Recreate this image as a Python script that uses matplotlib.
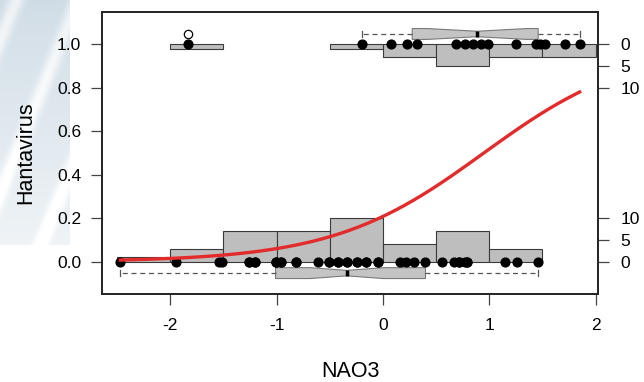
import matplotlib
matplotlib.use("Agg")
import matplotlib.pyplot as plt
import numpy as np
from matplotlib.colors import LinearSegmentedColormap

plt.rcParams['font.family'] = ['Liberation Sans', 'DejaVu Sans']
plt.rcParams['axes.unicode_minus'] = False

# NAO3 values for sites without hantavirus (0) and with hantavirus (1)
nao_neg = [-2.47, -1.95, -1.54, -1.51,
           -1.26, -1.26, -1.20, -1.20, -1.01, -1.01, -1.01,
           -0.96, -0.96, -0.82, -0.82, -0.61, -0.51, -0.51,
           -0.42, -0.42, -0.34, -0.34, -0.24, -0.24, -0.16, -0.16, -0.05, -0.05,
           0.16, 0.22, 0.29, 0.40,
           0.56, 0.67, 0.72, 0.72, 0.77, 0.79, 0.79,
           1.15, 1.26, 1.46]
nao_pos = [-1.83, -0.20, 0.08, 0.23, 0.32, 0.69, 0.77, 0.85, 0.92, 0.99,
           1.25, 1.44, 1.48, 1.52, 1.71, 1.85]
bin_edges = [-2.5, -2.0, -1.5, -1.0, -0.5, 0.0, 0.5, 1.0, 1.5, 2.0]
count_ticks = [0, 5, 10]


def fivenum_stats(v):
    # R style boxplot stats (Tukey hinges, 1.5 IQR whiskers, notch)
    v = np.sort(np.asarray(v, dtype=float))
    n = len(v)
    n4 = np.floor((n + 3) / 2) / 2
    d = np.array([1, n4, (n + 1) / 2, n + 1 - n4, n]) - 1
    fv = 0.5 * (v[np.floor(d).astype(int)] + v[np.ceil(d).astype(int)])
    iqr = fv[3] - fv[1]
    inside = v[(v >= fv[1] - 1.5 * iqr) & (v <= fv[3] + 1.5 * iqr)]
    fl = v[(v < fv[1] - 1.5 * iqr) | (v > fv[3] + 1.5 * iqr)]
    half = 1.58 * iqr / np.sqrt(n)
    return dict(med=fv[2], q1=fv[1], q3=fv[3], whislo=inside.min(),
                whishi=inside.max(), fliers=fl, cilo=fv[2] - half, cihi=fv[2] + half)


x = np.array(nao_neg + nao_pos)
y = np.array([0] * len(nao_neg) + [1] * len(nao_pos))

# logistic regression (IRLS)
X = np.column_stack([np.ones_like(x), x])
beta = np.zeros(2)
for _ in range(30):
    eta = X @ beta
    p = 1 / (1 + np.exp(-eta))
    w = p * (1 - p)
    z = eta + (y - p) / w
    beta = np.linalg.solve(X.T @ (X * w[:, None]), X.T @ (w * z))

cnt0, _ = np.histogram(nao_neg, bins=bin_edges)
cnt1, _ = np.histogram(nao_pos, bins=bin_edges)
scale = 0.2 / max(cnt0.max(), cnt1.max())
lefts = np.array(bin_edges[:-1])
widths = np.diff(bin_edges)

fig = plt.figure(figsize=(6.44, 3.82), dpi=100)

# light bluish decoration at the left edge
deco = fig.add_axes([0, 1 - 245 / 382, 70 / 644, 245 / 382])
gy, gx = np.mgrid[0:1:120j, 0:1:40j]
shade = 0.45 + 0.35 * gy + 0.35 * np.clip(np.sin(7 * gx + 10 * gy), 0, 1) ** 3
cmap = LinearSegmentedColormap.from_list('deco', ['#9fb4c4', '#d6e1e9', '#ffffff'])
deco.imshow(np.clip(shade, 0, 1), cmap=cmap, vmin=0, vmax=1, aspect='auto')
deco.axis('off')

ax = fig.add_axes([102 / 644, 1 - 294 / 382, 496 / 644, 282 / 382])

m0 = cnt0 > 0
m1 = cnt1 > 0
ax.bar(lefts[m0], cnt0[m0] * scale, width=widths[m0], bottom=0, align='edge',
       color='#bebebe', edgecolor='#3a3a3a', linewidth=0.8, zorder=1)
ax.bar(lefts[m1], -cnt1[m1] * scale, width=widths[m1], bottom=1, align='edge',
       color='#bebebe', edgecolor='#3a3a3a', linewidth=0.8, zorder=1)

bstats = [fivenum_stats(nao_neg), fivenum_stats(nao_pos)]
ax.bxp(bstats, positions=[-0.052, 1.047], widths=0.05, vert=False, shownotches=True,
       patch_artist=True, manage_ticks=False,
       boxprops=dict(facecolor='#c4c4c4', edgecolor='#7a7a7a', linewidth=0.8),
       medianprops=dict(color='black', linewidth=2.5),
       whiskerprops=dict(color='#555555', linestyle=(0, (4, 3)), linewidth=0.9),
       capprops=dict(color='#555555', linewidth=0.9),
       flierprops=dict(marker='o', markerfacecolor='white', markeredgecolor='black',
                       markersize=6, markeredgewidth=0.9), zorder=2)

ax.plot(nao_neg, np.zeros(len(nao_neg)), 'o', color='black', markersize=6.3, zorder=3)
ax.plot(nao_pos, np.ones(len(nao_pos)), 'o', color='black', markersize=6.3, zorder=3)

xs = np.linspace(x.min(), x.max(), 200)
ax.plot(xs, 1 / (1 + np.exp(-(beta[0] + beta[1] * xs))), color='#e32b2b',
        linewidth=2.4, zorder=4)

span = x.max() - x.min()
ax.set_xlim(x.min() - 0.04 * span, x.max() + 0.04 * span)
ax.set_ylim(-0.148, 1.148)
ax.set_xticks([-2, -1, 0, 1, 2])
ax.set_yticks([0, 0.2, 0.4, 0.6, 0.8, 1.0])
ax.set_yticklabels(['0.0', '0.2', '0.4', '0.6', '0.8', '1.0'])
ax.tick_params(axis='x', length=8, width=0.9, pad=9.5, labelsize=12.5, color='#444444')
ax.tick_params(axis='y', length=8, width=0.9, pad=7, labelsize=12.5, color='#444444')

ax2 = ax.twinx()
ax2.set_ylim(ax.get_ylim())
ax2.set_yticks([c * scale for c in count_ticks] + [1 - c * scale for c in count_ticks])
ax2.set_yticklabels([str(c) for c in count_ticks] * 2)
ax2.tick_params(axis='y', length=8, width=0.9, pad=8, labelsize=12.5, color='#444444')

for a in (ax, ax2):
    for s in a.spines.values():
        s.set_linewidth(1.2)
        s.set_color('#222222')

ax.set_xlabel('NAO3', fontsize=15.5)
ax.xaxis.set_label_coords(0.5, -0.295)
ax.xaxis.label.set_va('baseline')
ax.set_ylabel('Hantavirus', fontsize=15.5)
ax.yaxis.set_label_coords(-0.153, 0.5)
ax.yaxis.label.set_va('center')

fig.savefig('out.png', dpi=100)
